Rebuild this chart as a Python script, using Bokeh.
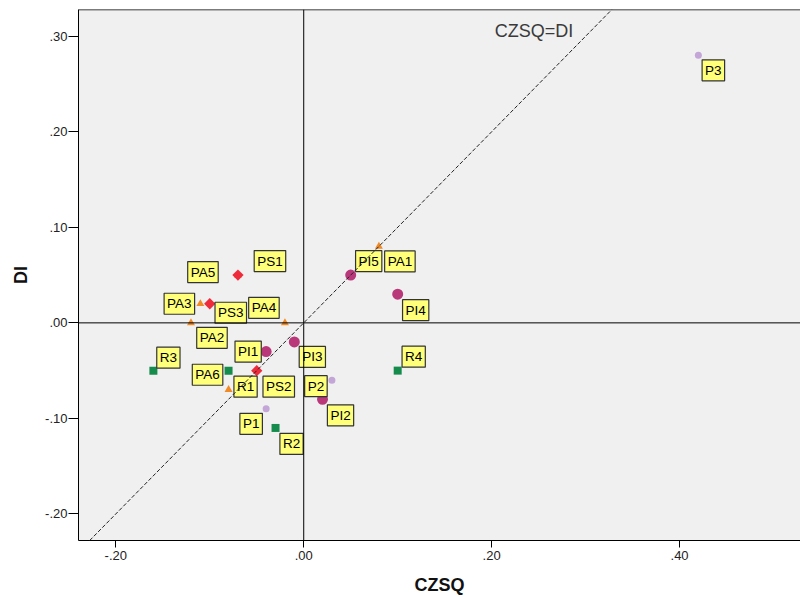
from bokeh.plotting import figure
from bokeh.models import Range1d, FixedTicker, CustomJSTickFormatter, Span, Slope, Label
from bokeh.embed import file_html
from bokeh.resources import INLINE

# ---- data ----
p_names = ["P1", "P2", "P3"]
p_czsq = [-0.04, 0.03, 0.42]
p_di = [-0.09, -0.06, 0.28]

pi_names = ["PI1", "PI2", "PI3", "PI4", "PI5"]
pi_czsq = [-0.04, 0.02, -0.01, 0.10, 0.05]
pi_di = [-0.03, -0.08, -0.02, 0.03, 0.05]

pa_names = ["PA1", "PA2", "PA3", "PA4", "PA5", "PA6"]
pa_czsq = [0.08, -0.12, -0.11, -0.02, -0.07, -0.08]
pa_di = [0.08, 0.00, 0.02, 0.00, 0.05, -0.07]

ps_names = ["PS1", "PS2", "PS3"]
ps_czsq = [-0.07, -0.05, -0.10]
ps_di = [0.05, -0.05, 0.02]

r_names = ["R1", "R2", "R3", "R4"]
r_czsq = [-0.08, -0.03, -0.16, 0.10]
r_di = [-0.05, -0.11, -0.05, -0.05]

x_ticks = [-0.2, 0.0, 0.2, 0.4]
y_ticks = [-0.2, -0.1, 0.0, 0.1, 0.2, 0.3]

# ---- label placement (screen px: dx right, dy down) ----
label_offsets = {
    "P1": (-15, 15), "P2": (-16, 6), "P3": (15, 15),
    "PI1": (-18, 0), "PI2": (18, 16), "PI3": (18, 15), "PI4": (18, 16), "PI5": (18, -14),
    "PA1": (21, 15), "PA2": (21, 15), "PA3": (-21, 0), "PA4": (-21, -15), "PA5": (-35, -3), "PA6": (-21, -15),
    "PS1": (32, -14), "PS2": (22, 16), "PS3": (21, 9),
    "R1": (17, 16), "R2": (16, 16), "R3": (15, -13), "R4": (16, -14),
}

FONT = "Liberation Sans"
x_lo, x_hi = -0.2397, 0.5287
y_lo, y_hi = -0.2278, 0.328

p = figure(width=800, height=597, output_backend="svg", toolbar_location=None,
           x_range=Range1d(x_lo, x_hi), y_range=Range1d(y_lo, y_hi),
           min_border_left=78, min_border_right=0, min_border_top=9, min_border_bottom=54)
p.background_fill_color = "#F0F0F0"
p.border_fill_color = "white"
p.outline_line_color = None
p.xgrid.visible = False
p.ygrid.visible = False

fmt = CustomJSTickFormatter(code="""
const s = tick.toFixed(2);
return s.replace("0.", ".");
""")
for ax, ticks in ((p.xaxis[0], x_ticks), (p.yaxis[0], y_ticks)):
    ax.ticker = FixedTicker(ticks=ticks)
    ax.formatter = fmt
    ax.major_tick_in = 0
    ax.minor_tick_line_color = None
    ax.axis_line_color = "black"
    ax.major_tick_line_color = "black"
    ax.major_label_text_font = FONT
    ax.major_label_text_font_size = "13px"
    ax.major_label_text_color = "#222222"
    ax.axis_label_text_font = FONT
    ax.axis_label_text_font_size = "18px"
    ax.axis_label_text_font_style = "bold"
    ax.axis_label_text_color = "#111111"

p.xaxis.major_tick_out = 7
p.xaxis.major_label_standoff = 3
p.yaxis.major_tick_out = 10
p.yaxis.major_label_standoff = 1
p.xaxis.axis_label = "CZSQ"
p.yaxis.axis_label = "DI"
p.xaxis.axis_label_standoff = 12
p.yaxis.axis_label_standoff = 11

# top border
p.add_layout(Span(location=y_hi, dimension="width", line_color="black", line_width=1.5))

# markers
p.scatter(p_czsq, p_di, marker="circle", size=7, fill_color="#C4A5D8", line_color=None)
p.scatter(pi_czsq, pi_di, marker="circle", size=11, fill_color="#B9387A", line_color=None)
p.scatter(pa_czsq, pa_di, marker="triangle", size=8, fill_color="#F08A24", line_color=None)
p.scatter(ps_czsq, ps_di, marker="square", angle=0.785398, size=8, fill_color="#EE2B3B", line_color=None)
p.scatter(r_czsq, r_di, marker="square", size=8, fill_color="#168C4C", line_color=None)

# point labels
all_names = p_names + pi_names + pa_names + ps_names + r_names
all_x = p_czsq + pi_czsq + pa_czsq + ps_czsq + r_czsq
all_y = p_di + pi_di + pa_di + ps_di + r_di
for n, xv, yv in zip(all_names, all_x, all_y):
    dx, dy = label_offsets[n]
    p.add_layout(Label(x=xv, y=yv, text=n, x_offset=dx + 1.5, y_offset=-dy - 1.5,
                       text_font=FONT, text_font_size="13.5px", text_alpha=0,
                       text_align="center", text_baseline="middle", padding=3,
                       background_fill_color="#8a8a8a", border_line_color=None))
    p.add_layout(Label(x=xv, y=yv, text=n, x_offset=dx, y_offset=-dy,
                       text_font=FONT, text_font_size="13.5px", text_color="black",
                       text_align="center", text_baseline="middle", padding=3,
                       background_fill_color="#FFFF7A", border_line_color="#333333",
                       border_line_width=1.2))

# reference lines (drawn over the labels)
p.add_layout(Span(location=0, dimension="height", line_color="black", line_width=1))
p.add_layout(Span(location=0, dimension="width", line_color="black", line_width=1))
p.add_layout(Slope(gradient=1, y_intercept=0, line_color="#222222", line_width=1, line_dash="4 2"))
p.add_layout(Label(x=0.245, y=0.305, text="CZSQ=DI", text_font=FONT, text_font_size="18px",
                   text_color="#3a3a3a", text_align="center", text_baseline="middle"))

open("out.html", "w").write(file_html(p, INLINE))
